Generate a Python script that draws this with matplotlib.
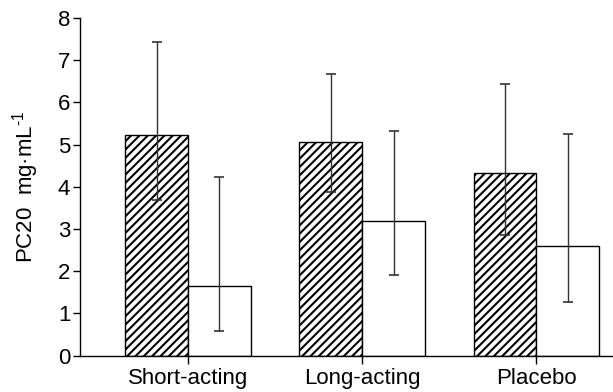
import numpy as np
import matplotlib
matplotlib.use("Agg")
import matplotlib.pyplot as plt

# data
groups = ["Short-acting", "Long-acting", "Placebo"]
hatched_mean = [5.23, 5.07, 4.33]
hatched_low = [3.68, 3.87, 2.85]
hatched_high = [7.44, 6.67, 6.44]
open_mean = [1.65, 3.20, 2.59]
open_low = [0.57, 1.92, 1.27]
open_high = [4.23, 5.32, 5.25]
yticks = [0, 1, 2, 3, 4, 5, 6, 7, 8]

plt.rcParams['font.family'] = ['Liberation Sans', 'DejaVu Sans']
plt.rcParams['mathtext.fontset'] = 'custom'
plt.rcParams['mathtext.rm'] = 'Liberation Sans'
plt.rcParams['mathtext.default'] = 'regular'
plt.rcParams['hatch.linewidth'] = 1.5
fs = 16

fig = plt.figure(figsize=(6.13, 3.92), dpi=100)
ax = fig.add_axes([80 / 613, 1 - 355.5 / 392, 1 - 80 / 613, (355.5 - 18) / 392])

x = np.arange(len(groups))
w = 0.36

hm = np.array(hatched_mean)
om = np.array(open_mean)
h_err = [hm - np.array(hatched_low), np.array(hatched_high) - hm]
o_err = [om - np.array(open_low), np.array(open_high) - om]

ax.bar(x - w / 2, hm, w, color='white', edgecolor='black', hatch='////', linewidth=1.0)
ax.bar(x + w / 2, om, w, color='white', edgecolor='black', linewidth=1.0)
ax.errorbar(x - w / 2, hm, yerr=h_err, fmt='none', ecolor='#333333', elinewidth=1.0, capsize=3.5, capthick=1.2)
ax.errorbar(x + w / 2, om, yerr=o_err, fmt='none', ecolor='#333333', elinewidth=1.0, capsize=3.5, capthick=1.2)

ax.set_xlim(-0.62, 2.44)
ax.set_ylim(0, 8)
ax.set_yticks(yticks)
ax.set_xticks(x)
ax.set_xticklabels(groups, fontsize=fs)
ax.tick_params(axis='y', labelsize=fs, length=5, width=1, pad=2)
ax.tick_params(axis='x', length=6, width=1, pad=3)

for s in ['top', 'right']:
    ax.spines[s].set_visible(False)
for s in ['left', 'bottom']:
    ax.spines[s].set_linewidth(1.0)

ax.set_ylabel("PC20  mg·mL$^{\\text{-1}}$", fontsize=fs, labelpad=12)

fig.savefig("out.png", dpi=100)
